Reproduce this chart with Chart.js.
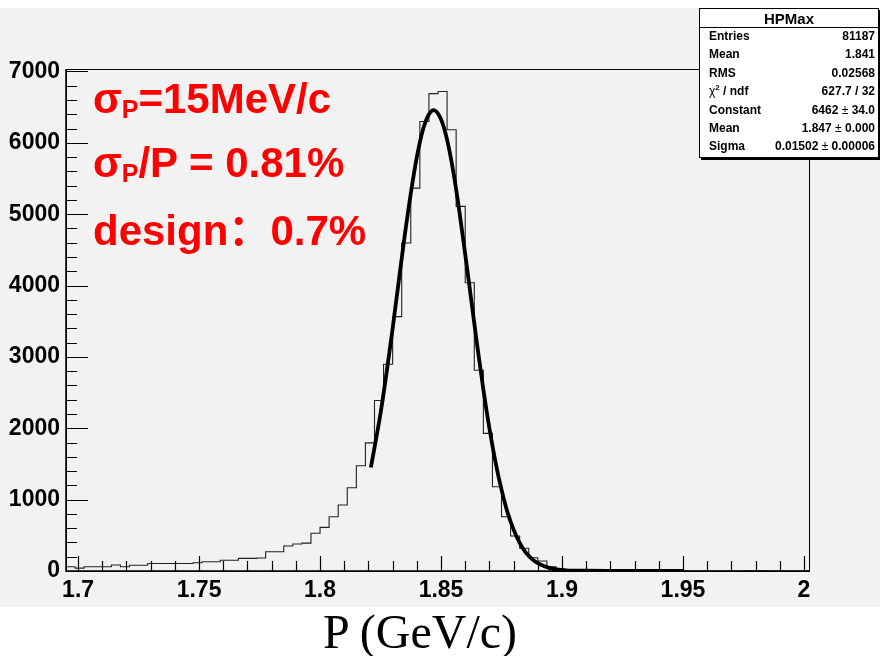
<!DOCTYPE html>
<html lang="en">
<head>
<meta charset="UTF-8" />
<title>HPMax</title>
<script src="https://cdn.jsdelivr.net/npm/chart.js"></script>
<style>
  body { margin: 0; background: #fff; }
  #wrap { position: relative; width: 880px; height: 656px; overflow: hidden; font-family: "Liberation Sans", Arial, sans-serif; }
  #c { position: absolute; left: 0; top: 0; }
  .note { position: absolute; left: 93px; top: 67px; color: #ff0000; font-weight: bold; font-size: 42px; line-height: 64px; white-space: nowrap; }
  .note .sub { font-size: 25px; line-height: 0; position: relative; top: 5px; }
  .note .cjk { font-family: "Noto Sans CJK SC", sans-serif; }
  .stats { position: absolute; left: 699px; top: 8px; width: 178px; height: 148px; background: #fff; border: 1px solid #000; box-shadow: 2px 2px 0 #000; font-weight: bold; font-size: 12px; }
  .stats .title { height: 18px; line-height: 20px; text-align: center; font-size: 15px; border-bottom: 1px solid #000; }
  .stats .row { display: flex; justify-content: space-between; height: 18.4px; line-height: 17px; padding: 0 3px 0 9px; }
  .stats .pm { font-weight: normal; }
  .xtitle { position: absolute; left: 0; width: 840px; top: 604px; text-align: center; font-family: "Liberation Serif", "Times New Roman", serif; font-size: 48px; line-height: 56px; }
</style>
</head>
<body>
<div id="wrap">
  <canvas id="c" width="880" height="656"></canvas>

  <div class="note">
    <div>σ<span class="sub">P</span>=15MeV/c</div>
    <div>σ<span class="sub">P</span>/P = 0.81%</div>
    <div>design<span class="cjk">：</span>0.7%</div>
  </div>

  <div class="stats">
    <div class="title">HPMax</div>
    <div class="row"><span>Entries</span><span>81187</span></div>
    <div class="row"><span>Mean</span><span>1.841</span></div>
    <div class="row"><span>RMS</span><span>0.02568</span></div>
    <div class="row"><span><span class="pm">χ</span><sup style="font-size:8px;line-height:0">2</sup> / ndf</span><span>627.7 / 32</span></div>
    <div class="row"><span>Constant</span><span>6462 <span class="pm">±</span> 34.0</span></div>
    <div class="row"><span>Mean</span><span>1.847 <span class="pm">±</span> 0.000</span></div>
    <div class="row"><span>Sigma</span><span>0.01502 <span class="pm">±</span> 0.00006</span></div>
  </div>

  <div class="xtitle">P (GeV/c)</div>
</div>

<script>
  // histogram: 82 bins of 0.00375 starting at 1.695
  const binStart = 1.695;
  const binWidth = 0.00375;
  const counts = [
    60, 40, 60, 60, 60, 84, 60, 80, 80, 105, 105, 105, 105, 105,
    115, 130, 130, 150, 150, 177, 177, 182, 270, 270, 350, 378, 390,
    528, 612, 760, 924, 1166, 1474, 1796,
    2390, 2898, 3565, 4596, 5366, 6300, 6690, 6720, 6184, 5110, 4040, 2814, 1928,
    1180, 760, 490, 318, 185, 140, 60, 30, 20, 12,
    10, 8, 6, 5, 4, 3, 3, 2, 2, 2, 1, 1, 1, 0, 1, 0, 0, 0, 3, 3, 0, 0, 0, 0, 0
  ];

  // gaussian fit curve
  const fitX = [1.821, 1.825, 1.8275, 1.83, 1.8325, 1.835, 1.8375, 1.84, 1.8425, 1.845, 1.847,
                1.85, 1.8525, 1.855, 1.8575, 1.86, 1.8625, 1.865, 1.8675, 1.87, 1.8725, 1.875,
                1.8775, 1.88, 1.8825, 1.885, 1.8875, 1.89, 1.895, 1.9, 1.91, 1.92, 1.93, 1.95];
  const fitY = [1450, 2210, 2780, 3400, 4055, 4700, 5290, 5800, 6180, 6400, 6460,
                6330, 6045, 5610, 5060, 4440, 3795, 3150, 2545, 2000, 1530, 1140,
                820, 580, 395, 260, 170, 110, 40, 13, 4, 1, 0, 0];

  const xTicks = [1.7, 1.75, 1.8, 1.85, 1.9, 1.95, 2.0];
  const xTickLabels = ["1.7", "1.75", "1.8", "1.85", "1.9", "1.95", "2"];
  const yTicks = [0, 1000, 2000, 3000, 4000, 5000, 6000, 7000];

  // outline points of the histogram (left and right corner of each bin)
  const histPts = [];
  counts.forEach((c, i) => {
    histPts.push({ x: binStart + i * binWidth, y: c });
    histPts.push({ x: binStart + (i + 1) * binWidth, y: c });
  });
  const fitPts = fitX.map((x, i) => ({ x: x, y: fitY[i] }));

  // background, frame and ROOT-like inner ticks
  const rootFrame = {
    id: "rootFrame",
    beforeDraw(chart) {
      const ctx = chart.ctx;
      ctx.save();
      ctx.fillStyle = "#fff";
      ctx.fillRect(0, 0, chart.width, chart.height);
      ctx.fillStyle = "#f2f2f2";
      ctx.fillRect(0, 8, chart.width, 599);
      ctx.restore();
    },
    afterDatasetsDraw(chart) {
      const ctx = chart.ctx;
      const a = chart.chartArea;
      const xs = chart.scales.x, ys = chart.scales.y;
      ctx.save();
      ctx.strokeStyle = "#000";
      ctx.lineWidth = 1;
      ctx.strokeRect(a.left + 0.5, a.top + 0.5, a.right - a.left - 1, a.bottom - a.top);
      ctx.lineWidth = 1.5;
      ctx.beginPath();
      ctx.moveTo(a.left, a.top); ctx.lineTo(a.left, a.bottom); ctx.lineTo(a.right, a.bottom);
      ctx.stroke();
      ctx.lineWidth = 1.2;
      ctx.beginPath();
      for (let v = 1.7; v <= 2.0001; v += 0.01) {
        const px = Math.round(xs.getPixelForValue(v)) + 0.5;
        const major = Math.abs(v * 20 - Math.round(v * 20)) < 1e-6;
        ctx.moveTo(px, a.bottom);
        ctx.lineTo(px, a.bottom - (major ? 15 : 10));
      }
      for (let v = 0; v <= 7000; v += 200) {
        const py = Math.round(ys.getPixelForValue(v)) + 0.5;
        ctx.moveTo(a.left, py);
        ctx.lineTo(a.left + (v % 1000 === 0 ? 22 : 11), py);
      }
      ctx.stroke();
      ctx.restore();
    }
  };

  Chart.defaults.font.family = "'Liberation Sans', Arial, sans-serif";

  new Chart(document.getElementById("c"), {
    type: "line",
    data: {
      datasets: [
        {
          label: "fit",
          data: fitPts,
          borderColor: "#000",
          borderWidth: 3.8,
          pointRadius: 0,
          cubicInterpolationMode: "monotone",
          fill: false,
          order: 0
        },
        {
          label: "HPMax",
          data: histPts,
          borderColor: "#222",
          borderWidth: 1.1,
          pointRadius: 0,
          tension: 0,
          fill: false,
          order: 1
        }
      ]
    },
    options: {
      responsive: false,
      animation: false,
      layout: { padding: { left: 0, right: 70, top: 69, bottom: 0 } },
      plugins: { legend: { display: false }, tooltip: { enabled: false } },
      scales: {
        x: {
          type: "linear",
          min: 1.695,
          max: 2.0025,
          grid: { display: false, tickLength: 0 },
          border: { display: false },
          afterBuildTicks: (s) => { s.ticks = xTicks.map(v => ({ value: v })); },
          afterFit: (s) => { s.height = 85; },
          ticks: {
            color: "#000",
            padding: 6,
            maxRotation: 0,
            font: { size: 23, weight: "bold" },
            callback: (v) => xTickLabels[xTicks.findIndex(t => Math.abs(t - v) < 1e-6)]
          }
        },
        y: {
          min: 0,
          max: 7035,
          grid: { display: false, tickLength: 0 },
          border: { display: false },
          afterBuildTicks: (s) => { s.ticks = yTicks.map(v => ({ value: v })); },
          afterFit: (s) => { s.width = 66; },
          ticks: {
            color: "#000",
            padding: 6,
            font: { size: 23, weight: "bold" },
            callback: (v) => String(v)
          }
        }
      }
    },
    plugins: [rootFrame]
  });
</script>
</body>
</html>
